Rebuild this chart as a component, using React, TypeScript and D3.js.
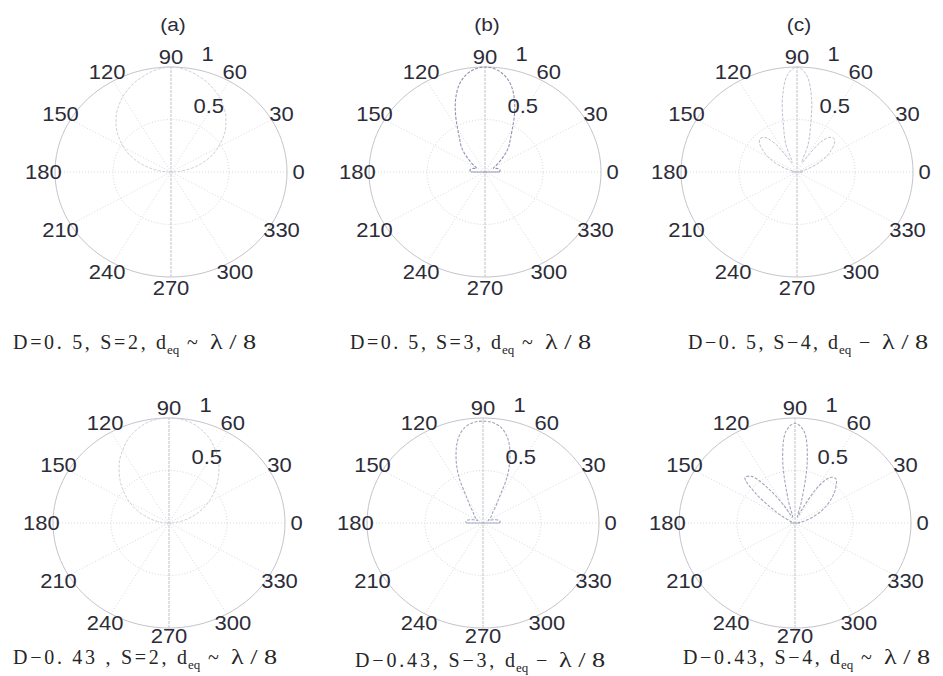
import React from "react";
import * as d3 from "d3";

// Sample angles (degrees) for the upper half-plane of each pattern
const ANGLES = [
  0, 5, 10, 15, 20, 25, 30, 35, 40, 45, 50, 55, 60, 65, 70, 75, 80, 85, 90,
  95, 100, 105, 110, 115, 120, 125, 130, 135, 140, 145, 150, 155, 160, 165, 170, 175, 180,
];

// Normalised radiation patterns, D = 0.5
const D050_S2 = [
  0.02, 0.08, 0.16, 0.24, 0.32, 0.4, 0.47, 0.54, 0.61, 0.67, 0.73, 0.78, 0.83, 0.87, 0.91, 0.94, 0.97, 0.99, 1.0,
  0.99, 0.97, 0.94, 0.91, 0.87, 0.83, 0.78, 0.73, 0.67, 0.61, 0.54, 0.47, 0.4, 0.32, 0.24, 0.16, 0.08, 0.02,
];
const D050_S3 = [
  0.12, 0.13, 0.13, 0.12, 0.1, 0.08, 0.09, 0.13, 0.18, 0.25, 0.32, 0.38, 0.47, 0.6, 0.74, 0.86, 0.94, 0.985, 1.0,
  0.985, 0.94, 0.86, 0.74, 0.6, 0.47, 0.38, 0.32, 0.25, 0.18, 0.13, 0.09, 0.08, 0.1, 0.12, 0.13, 0.13, 0.12,
];
const D050_S4 = [
  0.05, 0.03, 0.02, 0.06, 0.13, 0.21, 0.29, 0.36, 0.42, 0.45, 0.43, 0.33, 0.14, 0.1, 0.28, 0.45, 0.72, 0.93, 1.0,
  0.93, 0.72, 0.45, 0.28, 0.1, 0.14, 0.33, 0.43, 0.45, 0.42, 0.36, 0.29, 0.21, 0.13, 0.06, 0.02, 0.03, 0.05,
];

// Normalised radiation patterns, D = 0.43
const D043_S2 = [
  0.02, 0.06, 0.12, 0.18, 0.25, 0.32, 0.39, 0.46, 0.53, 0.6, 0.67, 0.74, 0.8, 0.86, 0.91, 0.95, 0.98, 0.995, 1.0,
  0.995, 0.98, 0.95, 0.91, 0.86, 0.8, 0.74, 0.67, 0.6, 0.53, 0.46, 0.39, 0.32, 0.25, 0.18, 0.12, 0.06, 0.02,
];
const D043_S3 = [
  0.14, 0.15, 0.14, 0.12, 0.09, 0.06, 0.05, 0.07, 0.09, 0.11, 0.13, 0.19, 0.28, 0.5, 0.68, 0.83, 0.92, 0.96, 0.97,
  0.96, 0.92, 0.83, 0.68, 0.5, 0.28, 0.19, 0.13, 0.11, 0.09, 0.07, 0.05, 0.06, 0.09, 0.12, 0.14, 0.15, 0.14,
];
const D043_S4 = [
  0.04, 0.03, 0.05, 0.1, 0.16, 0.23, 0.3, 0.37, 0.44, 0.5, 0.55, 0.53, 0.4, 0.15, 0.06, 0.22, 0.61, 0.88, 0.95,
  0.88, 0.61, 0.22, 0.06, 0.08, 0.2, 0.4, 0.58, 0.61, 0.45, 0.25, 0.12, 0.06, 0.04, 0.03, 0.03, 0.03, 0.04,
];

// Polar axis ticks
const ANGLE_TICKS = [0, 30, 60, 90, 120, 150, 180, 210, 240, 270, 300, 330];
const SPOKE_ANGLES = [30, 60, 90, 120, 150, 180];
const RADIAL_TICKS = [0.5, 1];
const RADIAL_TICK_LABELS = ["0.5", "1"];

const PANEL_TITLES = ["(a)", "(b)", "(c)"];

// Caption parts: [main, subscript, relation, wavelength]
const CAPTIONS: [string, string, string, string][] = [
  ["D=0. 5, S=2, d", "eq", "~", "λ/8"],
  ["D=0. 5, S=3, d", "eq", "~", "λ/8"],
  ["D−0. 5, S−4, d", "eq", "−", "λ/8"],
  ["D−0. 43 , S=2, d", "eq", "~", "λ/8"],
  ["D−0.43, S−3, d", "eq", "−", "λ/8"],
  ["D−0.43, S−4, d", "eq", "~", "λ/8"],
];

const SERIES = [D050_S2, D050_S3, D050_S4, D043_S2, D043_S3, D043_S4];

// Layout of the six polar plots
const LAYOUT = [
  { cx: 171, cy: 172, stroke: "#cfd0dc", width: 1, cap: { x: 13, y: 349, w: 245 } },
  { cx: 485, cy: 172, stroke: "#8f92b2", width: 1.1, cap: { x: 350, y: 349, w: 243 } },
  { cx: 797, cy: 172, stroke: "#bfc1d2", width: 1, cap: { x: 688, y: 349, w: 242 } },
  { cx: 169, cy: 523, stroke: "#cfd0dc", width: 1, cap: { x: 13, y: 664, w: 266 } },
  { cx: 483, cy: 523, stroke: "#a2a4c0", width: 1.1, cap: { x: 355, y: 667, w: 252 } },
  { cx: 795, cy: 523, stroke: "#a4a6be", width: 1.1, cap: { x: 683, y: 664, w: 249 } },
];

const RX = 116;
const RY = 105;
const TEXT = "#2c2c38";
const SANS = "'Liberation Sans', Arial, Helvetica, sans-serif";
const SERIF = "'Liberation Serif', 'Times New Roman', serif";

const rad = (deg: number) => (deg * Math.PI) / 180;

function PolarPanel({ idx }: { idx: number }) {
  const { cx, cy, stroke, width } = LAYOUT[idx];
  const values = SERIES[idx];
  const rx = d3.scaleLinear().domain([0, 1]).range([0, RX]);
  const ry = d3.scaleLinear().domain([0, 1]).range([0, RY]);
  const px = (r: number, a: number) => rx(r) * Math.cos(rad(a));
  const py = (r: number, a: number) => -ry(r) * Math.sin(rad(a));

  const ring = (r: number) => {
    const pts = d3.range(0, 361, 3).map((a) => [px(r, a), py(r, a)] as [number, number]);
    return d3.line()(pts) as string;
  };

  const pts = ANGLES.map((a, i) => [px(values[i], a), py(values[i], a)] as [number, number]);
  const lobe = d3.line().curve(d3.curveCatmullRom.alpha(0.5))(pts) as string;
  const closing = d3.line()([pts[pts.length - 1], [0, 0], pts[0]]) as string;
  const bottomRow = idx >= 3;

  return (
    <g transform={`translate(${cx},${cy})`}>
      {SPOKE_ANGLES.map((a) => (
        <line
          key={a}
          x1={px(-1, a)}
          y1={py(-1, a)}
          x2={px(1, a)}
          y2={py(1, a)}
          stroke={a === 90 ? "#c2c2c8" : "#dadade"}
          strokeWidth={1}
          strokeDasharray={a === 90 ? "3,1" : "1,2"}
        />
      ))}
      {RADIAL_TICKS.map((r) => (
        <path
          key={r}
          d={ring(r)}
          fill="none"
          stroke={r === 1 ? "#c4c4cc" : "#d8d8dc"}
          strokeWidth={1}
          strokeDasharray={r === 1 ? undefined : "1,2"}
        />
      ))}
      <path d={lobe} fill="none" stroke={stroke} strokeWidth={width} strokeDasharray="3,1.5" />
      <path d={closing} fill="none" stroke={stroke} strokeWidth={1} />
      {ANGLE_TICKS.map((a) => (
        <g
          key={a}
          transform={`translate(${px(1.1, a)},${py(1.1, a) - (bottomRow && a === 270 ? 3 : 0)}) scale(1.1,1)`}
        >
          <text textAnchor="middle" dy="0.36em" fontFamily={SANS} fontSize={20} fill={TEXT}>
            {a}
          </text>
        </g>
      ))}
      {RADIAL_TICKS.map((r, i) => (
        <g
          key={r}
          transform={`translate(${px(r + 0.025, 82) + 14},${py(r + 0.025, 82) - 4}) scale(1.1,1)`}
        >
          <text fontFamily={SANS} fontSize={20} fill={TEXT}>
            {RADIAL_TICK_LABELS[i]}
          </text>
        </g>
      ))}
    </g>
  );
}

function Caption({ idx }: { idx: number }) {
  const [main, sub, rel, wave] = CAPTIONS[idx];
  const { x, y, w } = LAYOUT[idx].cap;
  const mainW = w - 92;
  return (
    <g fontFamily={SERIF} fill="#262626">
      <text x={x} y={y} fontSize={20} textLength={mainW} lengthAdjust="spacing">
        {main}
      </text>
      <text x={x + mainW + 1} y={y + 5} fontSize={13}>
        {sub}
      </text>
      <text x={x + mainW + 21} y={y} fontSize={20}>
        {rel}
      </text>
      <g transform={`translate(${x + mainW + 44},${y}) scale(1.25,1)`}>
        <text x={0} y={0} fontSize={21} textLength={37} lengthAdjust="spacing">
          {wave}
        </text>
      </g>
    </g>
  );
}

export default function App() {
  return (
    <svg
      width={943}
      height={676}
      style={{ position: "absolute", left: 0, top: 0, background: "#ffffff" }}
    >
      <rect width={943} height={676} fill="#ffffff" />
      {LAYOUT.map((_, i) => (
        <PolarPanel key={i} idx={i} />
      ))}
      {PANEL_TITLES.map((t, i) => (
        <g key={t} transform={`translate(${LAYOUT[i].cx + 2},31) scale(1.1,1)`}>
          <text textAnchor="middle" fontFamily={SANS} fontSize={19} fill={TEXT}>
            {t}
          </text>
        </g>
      ))}
      {CAPTIONS.map((_, i) => (
        <Caption key={i} idx={i} />
      ))}
    </svg>
  );
}
